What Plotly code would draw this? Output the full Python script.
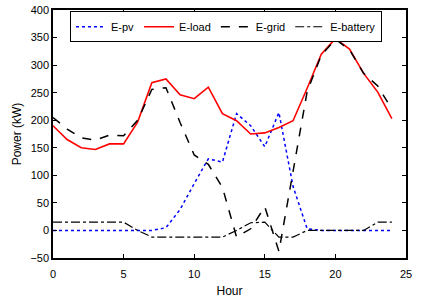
import plotly.graph_objects as go

hours = list(range(25))
e_pv = [0, 0, 0, 0, 0, 0, 0, 0, 5, 38, 85, 130, 124, 212, 190, 152, 214, 80, 3, 0, 0, 0, 0, 0, 0]
e_load = [190, 165, 150, 147, 157, 157, 197, 268, 275, 246, 239, 260, 212, 199, 175, 177, 187, 199, 258, 320, 348, 329, 285, 251, 203]
e_grid = [205, 184, 168, 164, 173, 172, 200, 256, 259, 196, 137, 120, 78, -12, 3, 43, -38, 105, 252, 318, 347, 328, 285, 262, 220]
e_battery = [15, 15, 15, 15, 15, 15, 0, -12, -12, -12, -12, -12, -12, 0, 14, 15, -12, -12, 0, 0, 0, 0, 0, 15, 15]

fig = go.Figure()
fig.add_trace(go.Scatter(x=hours, y=e_pv, name="E-pv", mode="lines",
                         line=dict(color="#0000ff", width=1.5, dash="dot")))
fig.add_trace(go.Scatter(x=hours, y=e_load, name="E-load", mode="lines",
                         line=dict(color="#ff0000", width=1.6)))
fig.add_trace(go.Scatter(x=hours, y=e_grid, name="E-grid", mode="lines",
                         line=dict(color="#000000", width=1.5, dash="dash")))
fig.add_trace(go.Scatter(x=hours, y=e_battery, name="E-battery", mode="lines",
                         line=dict(color="#000000", width=1.2, dash="dashdot")))

axis_common = dict(showline=True, linecolor="black", linewidth=1.5, mirror="ticks",
                   ticks="inside", ticklen=4, tickcolor="black", showgrid=False,
                   zeroline=False, automargin=False,
                   tickfont=dict(family="Liberation Sans, Arial", size=11, color="black"))

fig.update_layout(
    width=426, height=302,
    margin=dict(l=53, r=20, t=10, b=44),
    paper_bgcolor="white", plot_bgcolor="white",
    font=dict(family="Liberation Sans, Arial", size=11, color="black"),
    xaxis=dict(range=[0, 25], dtick=5, tick0=0, ticklabelstandoff=5,
               title=dict(text="Hour", standoff=8, font=dict(size=12)), **axis_common),
    yaxis=dict(range=[-50, 400], dtick=50, tick0=0,
               title=dict(text="Power (kW)", standoff=6, font=dict(size=12)), **axis_common),
    legend=dict(orientation="h", x=0.048, y=0.995, xanchor="left", yanchor="top",
                bgcolor="white", bordercolor="black", borderwidth=1,
                font=dict(size=11), tracegroupgap=0),
    showlegend=True,
)

fig.write_html("out.html", config={"displayModeBar": False},
               post_script="document.body.style.margin='0';document.body.style.overflow='hidden';")
